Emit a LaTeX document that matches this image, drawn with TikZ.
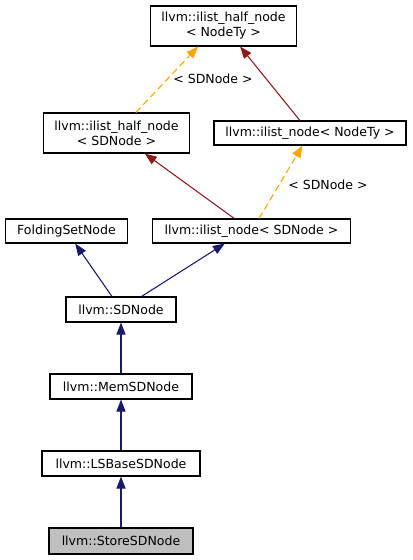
\documentclass[tikz,border=0pt]{standalone}
\usepackage{fontspec}
\setmainfont{DejaVu Sans}
\usetikzlibrary{arrows.meta}
\definecolor{edgenavy}{HTML}{191970}
\definecolor{edgered}{HTML}{8B1A1A}
\definecolor{edgeorange}{HTML}{FFA500}
\definecolor{storegray}{HTML}{BFBFBF}
\begin{document}
\begin{tikzpicture}[x=0.75pt, y=-0.75pt,
	cls/.style={draw=black, line width=0.8pt, fill=white, align=center, inner sep=0pt,
		font=\fontsize{9.4}{11.3}\selectfont},
	inherit/.style={edgenavy, line width=0.8pt, -{Triangle[length=9pt, width=6.8pt]}},
	member/.style={edgered, line width=0.8pt, -{Triangle[length=9pt, width=6.8pt]}},
	tmpl/.style={edgeorange, line width=0.8pt, dashed, dash pattern=on 5pt off 3pt,
		-{Triangle[length=9pt, width=6.8pt]}},
	lbl/.style={font=\fontsize{9.4}{11.3}\selectfont}]
		\useasboundingbox (0,0) rectangle (412,560);
		\node (halfTy) at (223.5,26)[cls, minimum width=110pt, minimum height=30pt]{llvm::ilist\_half\_node\\< NodeTy >};
		\node (halfSD) at (116.5,133)[cls, minimum width=110pt, minimum height=30pt]{llvm::ilist\_half\_node\\< SDNode >};
		\node (nodeTy) at (310,133)[cls, minimum width=144pt, minimum height=18pt]{llvm::ilist\_node< NodeTy >};
		\node (folding) at (66.5,231)[cls, minimum width=92pt, minimum height=18pt]{FoldingSetNode};
		\node (nodeSD) at (251.5,231)[cls, minimum width=149pt, minimum height=18pt]{llvm::ilist\_node< SDNode >};
		\node (sdnode) at (121,309.5)[cls, minimum width=82.5pt, minimum height=18.75pt]{llvm::SDNode};
		\node (mem) at (121,386.5)[cls, minimum width=106.5pt, minimum height=18.75pt]{llvm::MemSDNode};
		\node (lsbase) at (121,463.5)[cls, minimum width=118.5pt, minimum height=18.75pt]{llvm::LSBaseSDNode};
		\node (store) at (121,541)[cls, fill=storegray, minimum width=108pt, minimum height=19.5pt]{llvm::StoreSDNode};

		\draw[tmpl] (halfSD) -- ([xshift=-19pt]halfTy.south);
		\draw[member] (nodeTy) -- (halfTy);
		\draw[member] (nodeSD) -- (halfSD);
		\draw[tmpl] (nodeSD) -- (nodeTy);
		\draw[inherit] (sdnode) -- (folding);
		\draw[inherit] (sdnode) -- ([xshift=-20pt]nodeSD.south);
		\draw[inherit] (mem) -- (sdnode);
		\draw[inherit] (lsbase) -- (mem);
		\draw[inherit] (store) -- (lsbase);
		\node (lblA) at (213,79)[lbl]{< SDNode >};
		\node (lblB) at (328,185)[lbl]{< SDNode >};
	\end{tikzpicture}
\end{document}
